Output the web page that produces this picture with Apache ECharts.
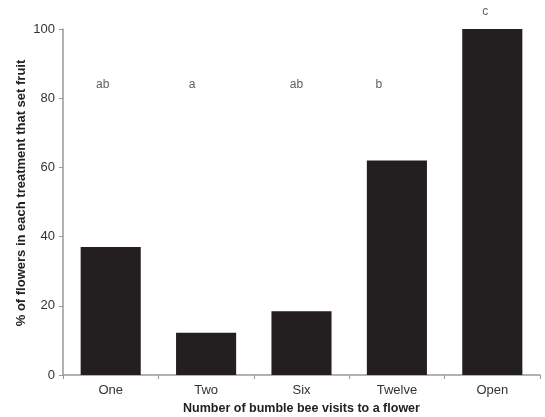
<!DOCTYPE html>
<html><head><meta charset="utf-8">
<script src="https://cdn.jsdelivr.net/npm/echarts@6/dist/echarts.min.js"></script>
<style>html,body{margin:0;padding:0;background:#fff}#c{width:545px;height:417px}</style>
</head><body><div id="c"></div>
<script>
const categories = ['One', 'Two', 'Six', 'Twelve', 'Open'];
const fruitSet = [37, 12.2, 18.4, 62, 100];
const letters = ['ab', 'a', 'ab', 'b', 'c'];
const letterY = [84, 84, 84, 84, 105];
const yTicks = [0, 20, 40, 60, 80, 100];

const letterOffsets = [-8, -14, -5, -18, -7];
const chart = echarts.init(document.getElementById('c'));
const font = 'Liberation Sans, Arial, sans-serif';
chart.setOption({
  animation: false,
  grid: { left: 63, right: 5, top: 29, bottom: 42, containLabel: false, outerBoundsMode: 'none' },
  xAxis: {
    type: 'category', data: categories,
    axisLine: { lineStyle: { color: '#999', width: 1.5 } },
    axisTick: { show: true, length: 4, lineStyle: { color: '#999' } },
    axisLabel: { color: '#333', fontFamily: font, fontSize: 13, margin: 9 },
    name: 'Number of bumble bee visits to a flower', nameLocation: 'middle', nameGap: 27,
    nameMoveOverlap: false,
    nameTextStyle: { color: '#222', fontFamily: font, fontSize: 12.5, fontWeight: 'bold' }
  },
  yAxis: {
    type: 'value', min: yTicks[0], max: yTicks[yTicks.length - 1], interval: 20,
    splitLine: { show: false },
    axisLine: { show: true, lineStyle: { color: '#999', width: 1.5 } },
    axisTick: { show: true, length: 4, lineStyle: { color: '#999' } },
    axisLabel: { color: '#333', fontFamily: font, fontSize: 13, margin: 8 },
    name: '% of flowers in each treatment that set fruit', nameLocation: 'middle', nameGap: 35,
    nameMoveOverlap: false,
    nameTextStyle: { color: '#222', fontFamily: font, fontSize: 13, fontWeight: 'bold',
      padding: [0, 0, 0, 18] }
  },
  series: [
    { type: 'bar', data: fruitSet, barWidth: '63%', itemStyle: { color: '#231f20' } },
    { type: 'scatter', symbolSize: 0, silent: true, clip: false,
      data: letters.map((t, i) => ({ value: [categories[i], letterY[i]], name: t,
        label: { offset: [letterOffsets[i], 0] } })),
      label: { show: true, position: 'inside', formatter: p => p.name, color: '#333',
        fontFamily: font, fontSize: 12 } }
  ]
});
</script></body></html>
